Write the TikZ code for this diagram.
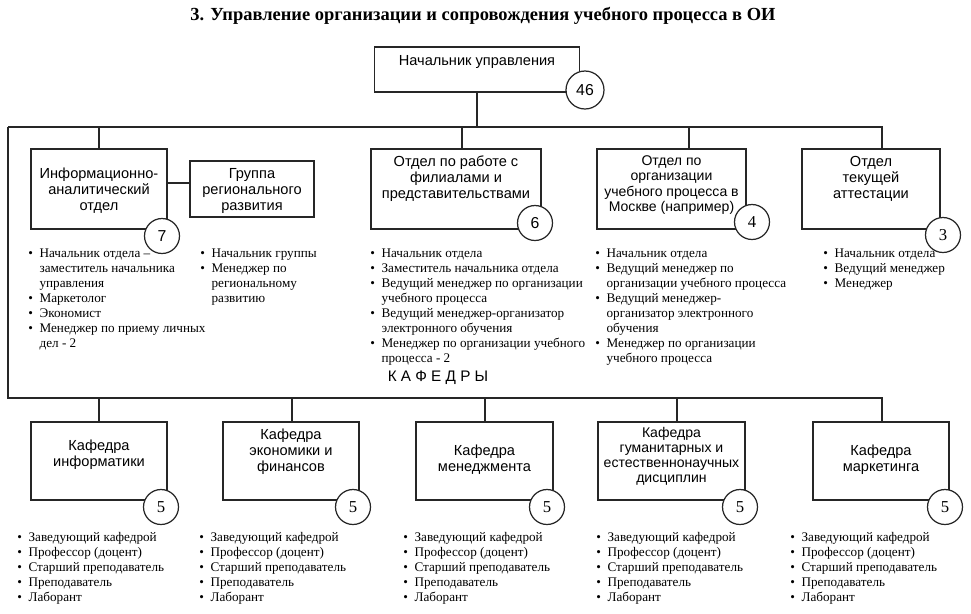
\documentclass[tikz,border=0pt]{standalone}
\usepackage{fontspec}
\setmainfont{Liberation Serif}
\setsansfont{Liberation Sans}
\usetikzlibrary{calc}

\newcommand{\bul}{\makebox[6.4pt][l]{\textbullet}}
\newcommand{\ind}{\hspace*{6.4pt}}
\newcommand{\kaflist}{\bul Заведующий кафедрой\\ \bul Профессор (доцент)\\
  \bul Старший преподаватель\\ \bul Преподаватель\\ \bul Лаборант}

\tikzset{
  box/.style={draw=black!85, line width=0.8pt, fill=white, inner sep=0pt},
  boxtext/.style={font=\sffamily\fontsize{8.3}{9.1}\selectfont, align=center, inner sep=0pt},
  smalltext/.style={font=\sffamily\fontsize{8}{8.6}\selectfont},
  num/.style={circle, draw=black!85, line width=0.7pt, fill=white, minimum size=0.7cm,
    inner sep=0pt, font=\fontsize{9.5}{10}\selectfont},
  sansnum/.style={font=\sffamily\fontsize{9}{10}\selectfont},
  items/.style={font=\fontsize{7.5}{8.5}\selectfont, align=left, anchor=north west, inner sep=0pt},
  link/.style={draw=black!85, line width=0.75pt}
}

\begin{document}
\begin{tikzpicture}[x=0.02cm, y=-0.02cm]
    \useasboundingbox (0,0) rectangle (971,613);

    \node[font=\bfseries\fontsize{10.5}{12}\selectfont] (title) at (483,16)
        {3. Управление организации и сопровождения учебного процесса в ОИ};

    \coordinate (busL) at (8,127);
    \coordinate (busR) at (882,127);
    \coordinate (kbusL) at (8,398);
    \coordinate (kbusR) at (882,398);

    % head
    \node[box, minimum width=4.1cm, minimum height=0.9cm] (boss) at (477,69.5) {};
    \node[boxtext] (bossT) at (477,62) {Начальник управления};

    % departments
    \node[box, minimum width=2.72cm, minimum height=1.6cm] (inf) at (99,189) {};
    \node[box, minimum width=2.48cm, minimum height=1.12cm] (grp) at (252,189) {};
    \node[box, minimum width=3.4cm, minimum height=1.6cm] (fil) at (456,189) {};
    \node[box, minimum width=2.98cm, minimum height=1.6cm] (mos) at (671.5,189) {};
    \node[box, minimum width=2.76cm, minimum height=1.6cm] (tek) at (871,189) {};

    \node[boxtext] (infT) at (99,191) {Информационно-\\аналитический\\отдел};
    \node[boxtext] (grpT) at (252,191) {Группа\\регионального\\развития};
    \node[boxtext] (filT) at (456,179) {Отдел по работе с\\филиалами и\\представительствами};
    \node[boxtext, smalltext] (mosT) at (671.5,185) {Отдел по\\организации\\учебного процесса в\\Москве (например)};
    \node[boxtext] (tekT) at (871,179) {Отдел\\текущей\\аттестации};

    % chairs
    \node[box, minimum width=2.72cm, minimum height=1.56cm] (kinf) at (99,461) {};
    \node[box, minimum width=2.72cm, minimum height=1.56cm] (keko) at (291,461) {};
    \node[box, minimum width=2.74cm, minimum height=1.56cm] (kmen) at (484.5,461) {};
    \node[box, minimum width=2.94cm, minimum height=1.56cm] (kgum) at (671.5,461) {};
    \node[box, minimum width=2.72cm, minimum height=1.56cm] (kmar) at (881,461) {};

    \node[boxtext] (kinfT) at (99,455) {Кафедра\\информатики};
    \node[boxtext] (kekoT) at (291,452) {Кафедра\\экономики и\\финансов};
    \node[boxtext] (kmenT) at (484.5,460) {Кафедра\\менеджмента};
    \node[boxtext, smalltext] (kgumT) at (671.5,456) {Кафедра\\гуманитарных и\\естественнонаучных\\дисциплин};
    \node[boxtext] (kmarT) at (881,460) {Кафедра\\маркетинга};

    \node[font=\sffamily\fontsize{8.7}{10}\selectfont] (kafT) at (438,378) {К А Ф Е Д Р Ы};

    % connectors
    \draw[link] (boss.south) -- (boss.south |- busL);
    \draw[link] (busL) -- (busR);
    \draw[link] (busL) -- (kbusL) -- (kbusR);
    \foreach \n/\dx in {inf/0, fil/6, mos/17.5, tek/11}
        \draw[link] ($(\n.north)+(\dx,0)$) -- ++(0,-22);
    \draw[link] ($(inf.east)+(0,-6)$) -- ($(grp.west)+(0,-6)$);
    \foreach \n/\dx in {kinf/0, keko/1, kmen/0.5, kgum/5.5, kmar/1}
        \draw[link] ($(\n.north)+(\dx,0)$) -- ++(0,-24);

    % staff numbers
    \node[num, sansnum, minimum size=0.76cm] (n46) at (585,90) {46};
    \node[num, sansnum] (n7) at (162,236) {7};
    \node[num, sansnum] (n6) at (535,223) {6};
    \node[num] (n4) at (752,222) {4};
    \node[num] (n3) at (943,235) {3};
    \node[num] (nkinf) at (161,507) {5};
    \node[num] (nkeko) at (353,507) {5};
    \node[num] (nkmen) at (547,507) {5};
    \node[num] (nkgum) at (740,507) {5};
    \node[num] (nkmar) at (945,507) {5};

    % staff lists
    \node[items] (infL) at (28,249) {\bul Начальник отдела --\\ \ind заместитель начальника\\
        \ind управления\\ \bul Маркетолог\\ \bul Экономист\\
        \bul Менеджер по приему личных\\ \ind дел - 2};
    \node[items] (grpL) at (200,249) {\bul Начальник группы\\ \bul Менеджер по\\
        \ind региональному\\ \ind развитию};
    \node[items] (filL) at (370,249) {\bul Начальник отдела\\ \bul Заместитель начальника отдела\\
        \bul Ведущий менеджер по организации\\ \ind учебного процесса\\
        \bul Ведущий менеджер-организатор\\ \ind электронного обучения\\
        \bul Менеджер по организации учебного\\ \ind процесса - 2};
    \node[items] (mosL) at (595,249) {\bul Начальник отдела\\ \bul Ведущий менеджер по\\
        \ind организации учебного процесса\\ \bul Ведущий менеджер-\\
        \ind организатор электронного\\ \ind обучения\\
        \bul Менеджер по организации\\ \ind учебного процесса};
    \node[items] (tekL) at (823,249) {\bul Начальник отдела\\ \bul Ведущий менеджер\\ \bul Менеджер};

    \node[items] (kinfL) at (17,532) {\kaflist};
    \node[items] (kekoL) at (199,532) {\kaflist};
    \node[items] (kmenL) at (403,532) {\kaflist};
    \node[items] (kgumL) at (596,532) {\kaflist};
    \node[items] (kmarL) at (790,532) {\kaflist};
\end{tikzpicture}
\end{document}
